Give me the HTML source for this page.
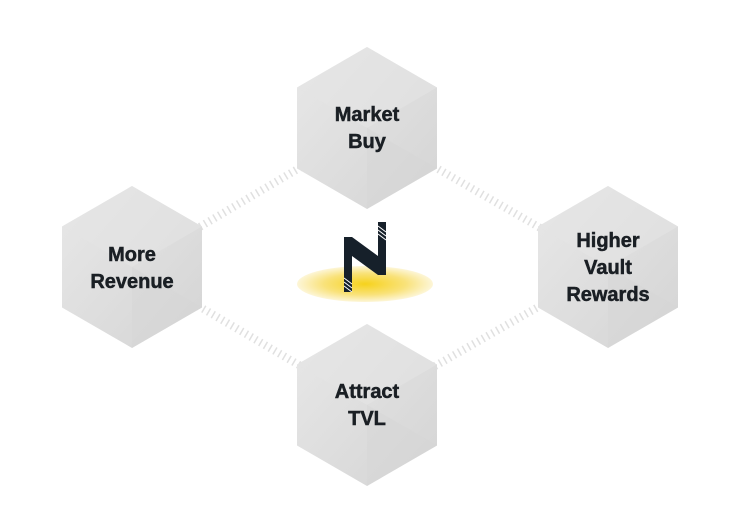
<!DOCTYPE html>
<html><head><style>
html,body{margin:0;padding:0;background:#fff;}
svg{display:block}
text{font-family:"Liberation Sans",sans-serif;font-weight:bold;fill:#1a1f24;stroke:#1a1f24;stroke-width:0.5;font-size:20px;text-anchor:middle}
</style></head><body>
<svg width="738" height="531" viewBox="0 0 738 531" xmlns="http://www.w3.org/2000/svg">
<defs>
<linearGradient id="hg" x1="0" y1="0" x2="1" y2="1">
<stop offset="0" stop-color="#e8e8e8"/><stop offset="1" stop-color="#d4d4d4"/>
</linearGradient>
<radialGradient id="glow" cx="0.5" cy="0.5" r="0.5">
<stop offset="0" stop-color="#f6d21c"/><stop offset="0.6" stop-color="#f9e27a"/><stop offset="1" stop-color="#fdf6d8"/>
</radialGradient>
<g id="hex">
<polygon points="0,-81 70,-40.5 70,40.5 0,81 -70,40.5 -70,-40.5" fill="url(#hg)"/>
<polygon points="0,-81 70,-40.5 0,0 -70,-40.5" fill="#e4e4e4" opacity="0.6"/>
<polygon points="0,0 70,40.5 0,81" fill="#d6d6d6" opacity="0.5"/>
</g>
</defs>
<g stroke="#e0e0e0" stroke-width="8" stroke-dasharray="1.5 4" fill="none">
<line x1="367" y1="128" x2="132" y2="267"/>
<line x1="367" y1="128" x2="608" y2="267"/>
<line x1="132" y1="267" x2="367" y2="405"/>
<line x1="608" y1="267" x2="367" y2="405"/>
</g>
<use href="#hex" x="367" y="128"/>
<use href="#hex" x="132" y="267"/>
<use href="#hex" x="608" y="267"/>
<use href="#hex" x="367" y="405"/>
<ellipse cx="365" cy="284" rx="68" ry="18" fill="url(#glow)"/>
<path d="M344,237 L352,237 L378,256 L378,222 L386,222 L386,275 L378,275 L352,256 L352,292 L344,292 Z" fill="#16202a"/>
<g stroke="#fff" stroke-width="1">
<line x1="378" y1="226" x2="386" y2="232"/><line x1="378" y1="230" x2="386" y2="236"/><line x1="378" y1="234" x2="386" y2="240"/>
<line x1="344" y1="278" x2="352" y2="284"/><line x1="344" y1="282" x2="352" y2="288"/><line x1="344" y1="286" x2="352" y2="292"/>
</g>
<text x="367" y="121">Market</text><text x="367" y="148">Buy</text>
<text x="132" y="261">More</text><text x="132" y="288">Revenue</text>
<text x="608" y="247">Higher</text><text x="608" y="274">Vault</text><text x="608" y="301">Rewards</text>
<text x="367" y="398">Attract</text><text x="367" y="425">TVL</text>
</svg>
</body></html>
